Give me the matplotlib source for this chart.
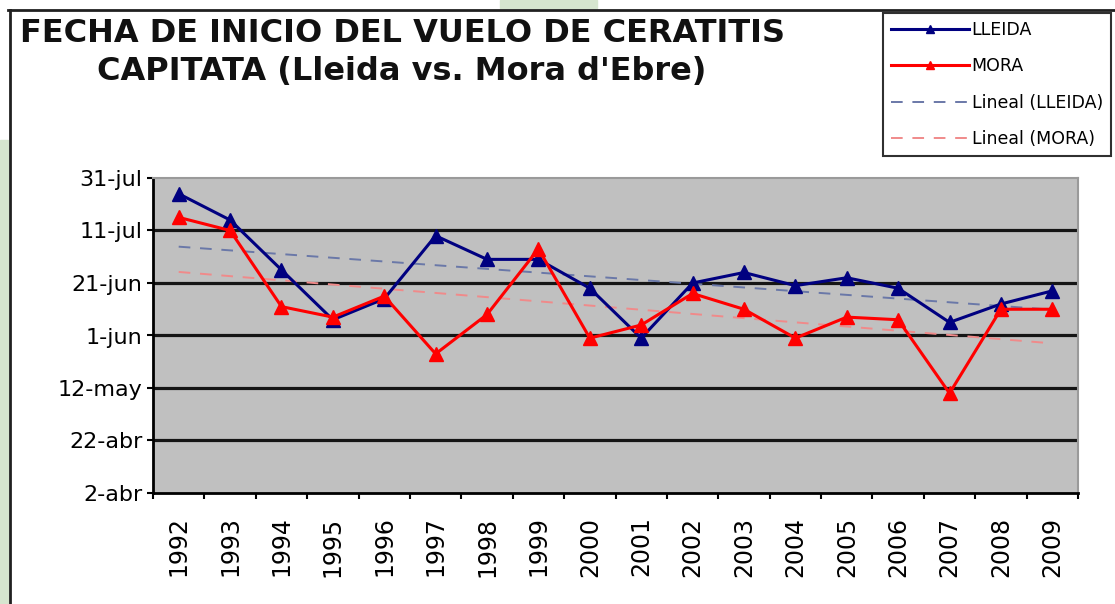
import numpy as np
import pandas as pd
import matplotlib
matplotlib.use('Agg')
import matplotlib.pyplot as plt
from matplotlib.lines import Line2D
from matplotlib.patches import Rectangle

years = [str(y) for y in range(1992, 2010)]
# fecha de inicio del vuelo (mes-dia)
lleida = ['07-25', '07-15', '06-26', '06-07', '06-15', '07-09', '06-30', '06-30', '06-19',
          '05-31', '06-21', '06-25', '06-20', '06-23', '06-19', '06-06', '06-13', '06-18']
mora = ['07-16', '07-11', '06-12', '06-08', '06-16', '05-25', '06-09', '07-04', '05-31',
        '06-05', '06-17', '06-11', '05-31', '06-08', '06-07', '05-10', '06-11', '06-11']
tick_dates = ['04-02', '04-22', '05-12', '06-01', '06-21', '07-11', '07-31']
tick_labels = ['2-abr', '22-abr', '12-may', '1-jun', '21-jun', '11-jul', '31-jul']


def doy(md):
    return pd.to_datetime(pd.Series(['2001-' + s for s in md])).dt.dayofyear.to_numpy()


W, H = 1115, 604
fig = plt.figure(figsize=(W / 100, H / 100), dpi=100)
fig.patch.set_facecolor('white')

# fondo / marco
fig.patches.append(Rectangle((0, 0), 8 / W, 1 - 140 / H, transform=fig.transFigure,
                             color='#d6e5cf', zorder=0))
fig.patches.append(Rectangle((500 / W, 1 - 8 / H), 97 / W, 8 / H, transform=fig.transFigure,
                             color='#d6e5cf', zorder=0))
fig.add_artist(Line2D([8 / W, 1], [1 - 9.5 / H, 1 - 9.5 / H], transform=fig.transFigure,
                      color='#202020', lw=2))
fig.add_artist(Line2D([9.5 / W, 9.5 / W], [0, 1 - 9.5 / H], transform=fig.transFigure,
                      color='#202020', lw=2))

ax = fig.add_axes([153 / W, 1 - 493 / H, 925 / W, (493 - 178) / H])
ax.set_facecolor('#c0c0c0')

x = np.arange(len(years))
y_ll = doy(lleida)
y_mo = doy(mora)
ticks = doy(tick_dates)

ax.hlines(ticks[1:-1], -0.5, len(years) - 0.5, colors='#151515', lw=2.3, zorder=1)

# lineas de tendencia (lineal)
p_ll = np.polyfit(x, y_ll, 1)
p_mo = np.polyfit(x, y_mo, 1)
ax.plot(x, np.polyval(p_ll, x), color='#6a78a8', lw=1.4, dashes=(6, 5), zorder=2,
        label='Lineal (LLEIDA)')
ax.plot(x, np.polyval(p_mo, x), color='#f08a8a', lw=1.4, dashes=(6, 5), zorder=2,
        label='Lineal (MORA)')

ax.plot(x, y_ll, color='#000080', lw=2.2, marker='^', ms=10.5, zorder=3, label='LLEIDA')
ax.plot(x, y_mo, color='#ff0000', lw=2.2, marker='^', ms=10.5, zorder=4, label='MORA')

ax.set_xlim(-0.5, len(years) - 0.5)
ax.set_ylim(ticks[0], ticks[-1])
ax.set_yticks(ticks)
ax.set_yticklabels(tick_labels, fontsize=16)
ax.tick_params(axis='y', direction='out', length=4.5, width=1.5, pad=3)
ax.set_xticks(x)
ax.set_xticklabels(years, rotation=90, fontsize=17)
ax.set_xticks(np.arange(-0.5, len(years)), minor=True)
ax.tick_params(axis='x', which='major', length=0, pad=17)
ax.tick_params(axis='x', which='minor', direction='out', length=4.5, width=1.5)

for s in ['left', 'bottom']:
    ax.spines[s].set_color('black')
    ax.spines[s].set_linewidth(2)
for s in ['top', 'right']:
    ax.spines[s].set_color('#9a9a9a')
    ax.spines[s].set_linewidth(1.5)

fig.text(402 / W, 1 - 42 / H, 'FECHA DE INICIO DEL VUELO DE CERATITIS', ha='center',
         va='baseline', fontsize=23, fontweight='bold', color='#111111')
fig.text(402 / W, 1 - 80 / H, "CAPITATA (Lleida vs. Mora d'Ebre)", ha='center',
         va='baseline', fontsize=23, fontweight='bold', color='#111111')

handles, labels = ax.get_legend_handles_labels()
order = [2, 3, 0, 1]
leg = fig.legend([handles[i] for i in order], [labels[i] for i in order],
                 loc='upper left', bbox_to_anchor=(883 / W, 1 - 13 / H), borderaxespad=0,
                 fontsize=12.5, fancybox=False, framealpha=1, edgecolor='#303030',
                 handlelength=4.5, handletextpad=0.15, labelspacing=1.06, borderpad=0.45,
                 markerscale=0.6)
leg.get_frame().set_linewidth(1.5)

fig.savefig('out.png', dpi=100)
